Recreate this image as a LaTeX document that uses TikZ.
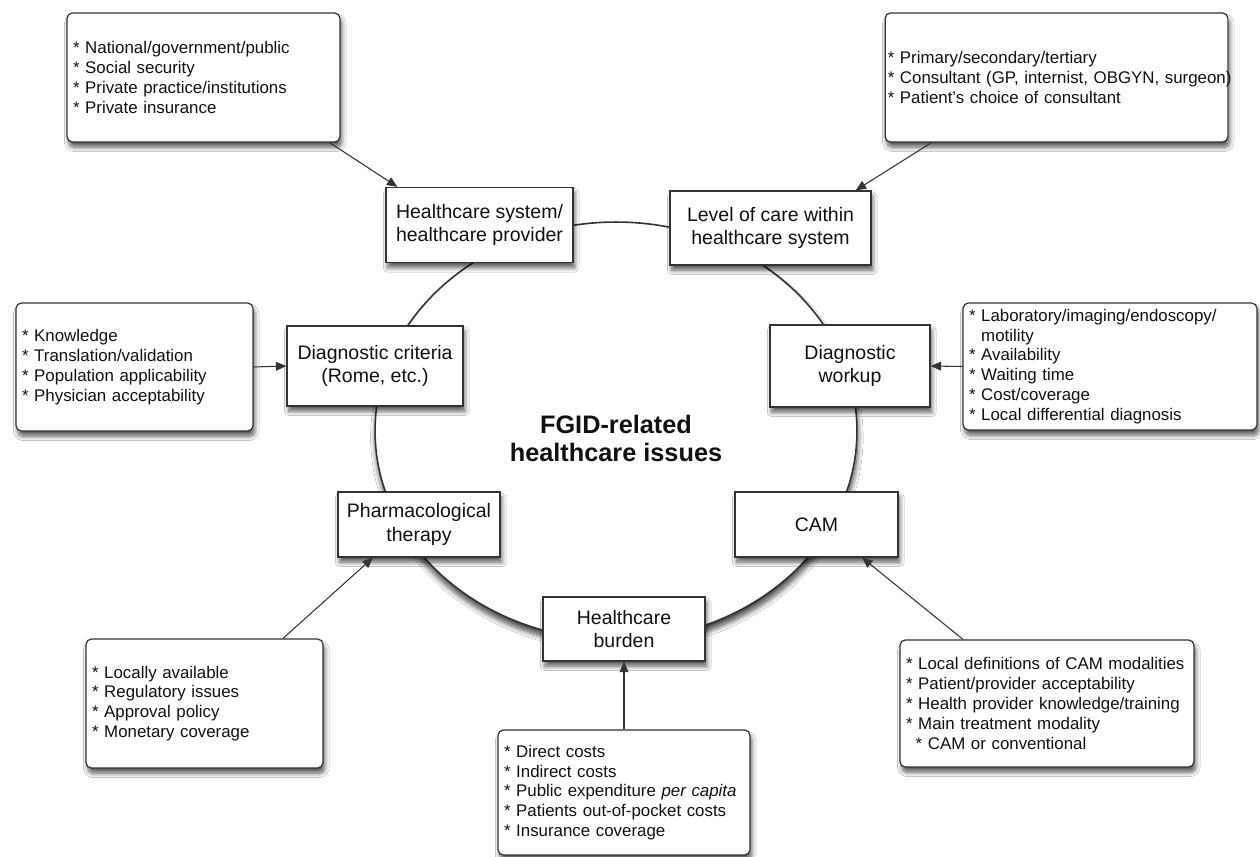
\documentclass[tikz,border=0pt]{standalone}
\usepackage{fontspec}
\setmainfont{Liberation Sans}
\usetikzlibrary{arrows.meta,calc,shadows.blur,shapes.geometric}
\definecolor{edge}{HTML}{333333}
\definecolor{ink}{HTML}{111111}
\tikzset{
 shd/.style={blur shadow={shadow xshift=1pt, shadow yshift=-3pt, shadow blur radius=2.5pt, shadow blur steps=8, shadow opacity=65}},
 ringshd/.style={blur shadow={shadow xshift=0.5pt, shadow yshift=-3.5pt, shadow blur radius=3pt, shadow blur steps=10, shadow opacity=75}},
 mainbox/.style={draw=edge, line width=0.7pt, fill=white, shd, align=center, text=ink, font=\fontsize{11.1}{13.6}\selectfont, inner sep=0pt},
 listbox/.style={draw=edge, line width=0.7pt, fill=white, shd, rounded corners=3pt, align=left, text=ink, font=\fontsize{9.6}{11.3}\selectfont, inner xsep=3.4pt, inner ysep=0pt},
 arr/.style={draw=edge, line width=0.6pt, -{Triangle[length=6pt,width=5pt]}},
}
\begin{document}
\begin{tikzpicture}[x=0.02cm,y=-0.02cm]
\useasboundingbox (0,0) rectangle (1260,857);
\fill[white] (0,0) rectangle (1260,857);

% central ring
\node[draw=edge, line width=0.9pt, fill=white, ringshd, ellipse, minimum width=9.64cm, minimum height=8.36cm, inner sep=0pt] (ring) at (616,431) {};
\node[font=\bfseries\fontsize{14.4}{15.9}\selectfont, align=center, text=ink] (title) at (616,438) {FGID-related\\healthcare issues};

% main boxes
\node[mainbox, minimum width=3.74cm, minimum height=1.5cm] (hs) at (479.5,225) {Healthcare system/\\healthcare provider};
\node[mainbox, minimum width=4.02cm, minimum height=1.48cm] (lc) at (770.5,228) {Level of care within\\healthcare system};
\node[mainbox, minimum width=3.52cm, minimum height=1.6cm] (dc) at (375,366) {Diagnostic criteria\\(Rome, etc.)};
\node[mainbox, minimum width=3.2cm, minimum height=1.64cm] (dw) at (850,366) {Diagnostic\\workup};
\node[mainbox, minimum width=3.24cm, minimum height=1.3cm] (ph) at (419,524.5) {Pharmacological\\therapy};
\node[mainbox, minimum width=3.26cm, minimum height=1.3cm] (cam) at (816.5,524.5) {CAM};
\node[mainbox, minimum width=3.24cm, minimum height=1.28cm] (hb) at (624,629) {Healthcare\\burden};

% list boxes
\node[listbox, text width=5.22cm, minimum height=2.58cm] (r1) at (203.5,77.5) {{*} National/government/public\\{*} Social security\\{*} Private practice/institutions\\{*} Private insurance};
\node[listbox, inner xsep=1.5pt, text width=6.75cm, minimum height=2.58cm] (r2) at (1056.5,77.5) {{*} Primary/secondary/tertiary\\\mbox{{*} Consultant (GP, internist, OBGYN, surgeon)}\\{*} Patient's choice of consultant};
\node[listbox, text width=4.5cm, minimum height=2.56cm] (r3) at (134.5,367) {{*} Knowledge\\{*} Translation/validation\\{*} Population applicability\\{*} Physician acceptability};
\node[listbox, text width=5.64cm, minimum height=2.54cm] (r4) at (1110,366.5) {{*} Laboratory/imaging/endoscopy/\\\hphantom{*} motility\\{*} Availability\\{*} Waiting time\\{*} Cost/coverage\\{*} Local differential diagnosis};
\node[listbox, text width=4.5cm, minimum height=2.58cm] (r5) at (204.5,703.5) {{*} Locally available\\{*} Regulatory issues\\{*} Approval policy\\{*} Monetary coverage};
\node[listbox, text width=5.64cm, minimum height=2.54cm] (r6) at (1047,703.5) {{*} Local definitions of CAM modalities\\{*} Patient/provider acceptability\\{*} Health provider knowledge/training\\{*} Main treatment modality\\\hspace*{5.5pt}{*} CAM or conventional};
\node[listbox, text width=4.8cm, minimum height=2.5cm] (r7) at (624,792.5) {{*} Direct costs\\{*} Indirect costs\\{*} Public expenditure \textit{per capita}\\{*} Patients out-of-pocket costs\\{*} Insurance coverage};

% connectors
\draw[arr] ($(r1.south east)+(-11,0)$) -- ($(hs.north west)+(12,0)$);
\draw[arr] ($(r2.south west)+(47,0)$) -- ($(lc.north east)+(-16,0)$);
\draw[arr] (r3.east) -- (dc.west);
\draw[arr] (r4.west) -- (dw.east);
\draw[arr] ($(r5.north)+(78.5,0)$) -- ($(ph.south)+(-46,0)$);
\draw[arr] ($(r6.north)+(-84,0)$) -- ($(cam.south)+(45.5,0)$);
\draw[arr] (r7.north) -- (hb.south);
\end{tikzpicture}
\end{document}
